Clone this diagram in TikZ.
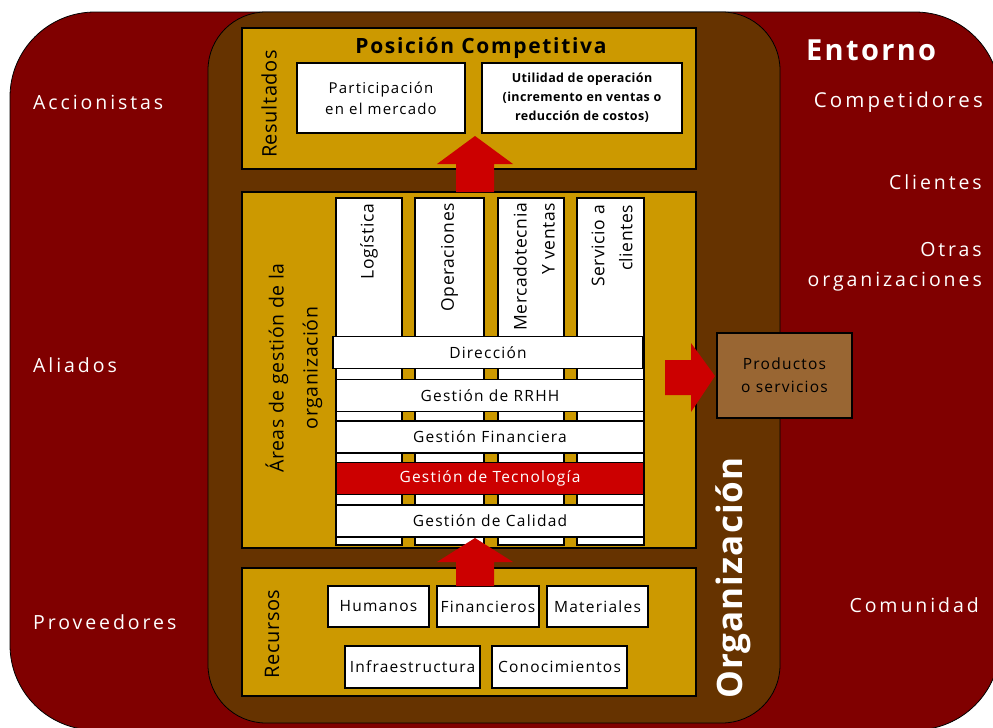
\documentclass[tikz,border=0pt]{standalone}
\usepackage{fontspec}
\setmainfont{Open Sans}
\newfontfamily\fwide{Open Sans}[LetterSpace=15]
\newfontfamily\fmid{Open Sans}[LetterSpace=8]
\newfontfamily\fsmall{Open Sans}[LetterSpace=3]
\definecolor{entorno}{HTML}{800000}
\definecolor{orgbrown}{HTML}{663300}
\definecolor{gold}{HTML}{CC9900}
\definecolor{redc}{HTML}{CC0000}
\definecolor{prodc}{HTML}{996633}
\tikzset{
  panel/.style={draw=black, line width=1.1pt, fill=gold, inner sep=0pt},
  wbox/.style={draw=black, line width=1.1pt, fill=white, inner sep=0pt, align=center, text=black},
  colbox/.style={wbox, minimum width=#1, minimum height=347pt},
  rowbox/.style={wbox, minimum width=308pt, minimum height=32pt, font=\fmid\fontsize{15.5}{18}\selectfont},
  resbox/.style={wbox, font=\fmid\fontsize{15.5}{18}\selectfont},
  envtext/.style={text=white, inner sep=0pt, font=\fwide\fontsize{19.5}{30}\selectfont},
  coltext/.style={rotate=90, anchor=east, inner sep=0pt, align=right, font=\fsmall\fontsize{17.5}{28}\selectfont},
  sidetext/.style={rotate=90, inner sep=0pt, align=center, font=\fsmall\fontsize{20}{34}\selectfont},
  bigarrow/.style={fill=redc, draw=none}
}
\begin{document}
\begin{tikzpicture}[x=1pt,y=-1pt]
\useasboundingbox (0,0) rectangle (993,728);
\begin{scope}
\clip (0,0) rectangle (993,728);
\draw[fill=entorno, draw=black, line width=0.8pt, rounded corners=85pt] (10,12) rectangle (1000,730);
\end{scope}
\draw[fill=orgbrown, draw=black, line width=0.8pt, rounded corners=58pt] (208,12) rectangle (780,723);

% environment labels
\node[envtext, anchor=west] (acc) at (33,102) {Accionistas};
\node[envtext, anchor=west] (ali) at (33,365) {Aliados};
\node[envtext, anchor=west] (prov) at (33,622) {Proveedores};
\node[envtext, anchor=west, font=\fmid\bfseries\fontsize{29}{32}\selectfont] (ent) at (806,50) {Entorno};
\node[envtext, anchor=east, font=\fwide\fontsize{20.5}{30}\selectfont] (comp) at (983,102) {Competidores};
\node[envtext, anchor=east] (cli) at (982,182) {Clientes};
\node[envtext, anchor=east, align=right] (otras) at (982,267) {Otras\\organizaciones};
\node[envtext, anchor=east] (comu) at (979,605) {Comunidad};

% panels
\node[panel, minimum width=454pt, minimum height=141pt] (top) at (469,98.5) {};
\node[panel, minimum width=454pt, minimum height=356pt] (mid) at (469,370) {};
\node[panel, minimum width=454pt, minimum height=128pt] (bot) at (469,632) {};

% top panel
\node[inner sep=0pt, font=\fmid\bfseries\fontsize{21}{24}\selectfont] (pos) at (481,48) {Posición Competitiva};
\node[sidetext] (res) at (269,104) {Resultados};
\node[wbox, minimum width=168pt, minimum height=70pt, font=\fmid\fontsize{15}{21}\selectfont] (part) at (381,98) {Participación\\en el mercado};
\node[wbox, minimum width=200pt, minimum height=70pt, font=\fsmall\bfseries\fontsize{12.5}{19}\selectfont] (util) at (582,98) {Utilidad de operación\\(incremento en ventas o\\reducción de costos)};

% middle panel
\node[sidetext, font=\fsmall\fontsize{19.5}{34}\selectfont] (areas) at (294,368) {Áreas de gestión de la\\organización};
\node[colbox=66pt] (c1) at (369,371.5) {};
\node[colbox=69pt] (c2) at (449.5,371.5) {};
\node[colbox=66pt] (c3) at (531,371.5) {};
\node[colbox=67pt] (c4) at (610.5,371.5) {};
\node[coltext] (t1) at (369,204) {Logística};
\node[coltext] (t2) at (449.5,203) {Operaciones};
\node[coltext] (t3) at (534,203) {Mercadotecnia\\Y ventas};
\node[coltext] (t4) at (612,205) {Servicio a\\clientes};
\node[rowbox, minimum width=310pt] (dir) at (488,352.5) {Dirección};
\node[rowbox] (rrhh) at (490,395.5) {Gestión de RRHH};
\node[rowbox] (fin) at (490,437) {Gestión Financiera};
\node[rowbox, fill=redc, text=white] (tec) at (490,478.5) {Gestión de Tecnología};
\node[rowbox] (cal) at (490,521) {Gestión de Calidad};

% products
\node[wbox, fill=prodc, minimum width=135pt, minimum height=85pt, font=\fmid\fontsize{15.5}{23}\selectfont] (prod) at (784.5,375.5) {Productos\\o servicios};

% bottom panel
\node[sidetext] (rec) at (272,634) {Recursos};
\node[resbox, minimum width=101pt, minimum height=41pt] (hum) at (378.5,606.5) {Humanos};
\node[resbox, minimum width=102pt, minimum height=41pt] (finr) at (488,606.5) {Financieros};
\node[resbox, minimum width=101pt, minimum height=41pt] (mat) at (597.5,606.5) {Materiales};
\node[resbox, minimum width=135pt, minimum height=42pt] (inf) at (412.5,667) {Infraestructura};
\node[resbox, minimum width=135pt, minimum height=42pt] (con) at (559.5,667) {Conocimientos};

% organización label
\node[rotate=90, inner sep=0pt, text=white, font=\fsmall\bfseries\fontsize{35}{40}\selectfont] (org) at (733,578) {Organización};

% block arrows
\fill[bigarrow] (456,192) -- (456,164) -- (437,164) -- (475,136) -- (513,164) -- (494,164) -- (494,192) -- cycle;
\fill[bigarrow] (456,586) -- (456,562) -- (437,562) -- (475,538) -- (513,562) -- (494,562) -- (494,586) -- cycle;
\fill[bigarrow] (665,360) -- (691,360) -- (691,343) -- (715,376) -- (691,412) -- (691,395) -- (665,395) -- cycle;
\end{tikzpicture}
\end{document}
